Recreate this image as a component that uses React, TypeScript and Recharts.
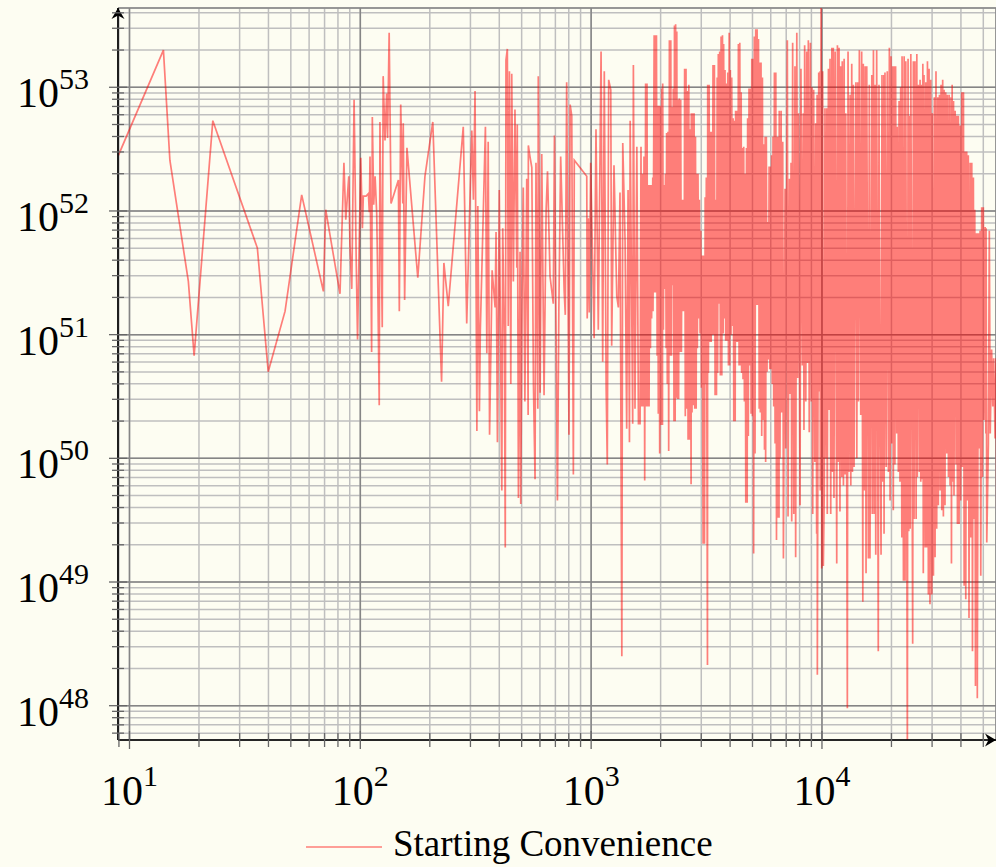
import { CartesianGrid, Legend, Line, LineChart, XAxis, YAxis } from 'recharts'

// log10(frequency) / log10(power)
const lowF = [
  0.952, 1.147, 1.175, 1.255, 1.28, 1.361, 1.554, 1.601, 1.674, 1.746,
  1.84, 1.85, 1.912, 1.929, 1.937, 1.95, 1.955, 1.963, 1.973, 1.982,
  1.988, 1.996, 2.002, 2.009, 2.013, 2.025, 2.035, 2.039, 2.042, 2.049,
  2.052, 2.058, 2.064, 2.071, 2.075, 2.082, 2.085, 2.092, 2.095, 2.099,
  2.107, 2.114, 2.118, 2.125, 2.133, 2.165, 2.169, 2.175, 2.184, 2.186,
  2.192, 2.202, 2.249, 2.28, 2.314, 2.352, 2.362, 2.381, 2.446, 2.461,
  2.475, 2.483, 2.49, 2.497, 2.505, 2.509, 2.516, 2.52, 2.542, 2.548,
  2.554, 2.56,
]
const lowP = [
  52.45, 53.3, 52.41, 51.43, 50.83, 52.73, 51.7, 50.7, 51.19, 52.13,
  51.35, 52.01, 51.33, 52.39, 51.93, 52.28, 51.73, 51.37, 52.9, 51.63,
  50.96, 51.81, 52.43, 51.86, 52.12, 52.12, 52.14, 51.99, 52.44, 50.86,
  52.76, 52.05, 52.28, 51.98, 51.5, 50.43, 52.72, 51.5, 51.06, 53.09,
  52.57, 52.95, 52.59, 53.44, 52.06, 52.25, 51.19, 52.86, 52.06, 52.71,
  51.28, 52.51, 51.46, 52.28, 52.72, 50.62, 51.58, 51.23, 52.68, 51.09,
  52.09, 52.65, 52.09, 52.97, 50.22, 52.04, 50.38, 51.04, 52.68, 50.85,
  52.56, 50.19,
]

const midF = [
  2.571, 2.584, 2.588, 2.594, 2.602, 2.613, 2.617, 2.624, 2.628, 2.631,
  2.637, 2.641, 2.646, 2.652, 2.656, 2.663, 2.67, 2.678, 2.68, 2.685,
  2.692, 2.695, 2.701, 2.706, 2.713, 2.721, 2.727, 2.728, 2.735, 2.743,
  2.75, 2.757, 2.761, 2.769, 2.771, 2.779, 2.786, 2.796, 2.805, 2.811,
  2.822, 2.836, 2.841, 2.854, 2.86, 2.868, 2.883, 2.888, 2.894, 2.904,
  2.909, 2.916, 2.923, 2.927, 2.981, 2.983, 2.988, 2.992, 2.998, 3.013,
  3.021, 3.031, 3.043, 3.05, 3.057, 3.065, 3.07, 3.076, 3.085, 3.089,
  3.099, 3.111, 3.118, 3.125, 3.133, 3.137, 3.147, 3.154, 3.16, 3.166,
  3.169, 3.18, 3.183, 3.19, 3.198, 3.205,
]
const midP = [
  51.52, 51.22, 51.83, 50.13, 52.17, 49.74, 51.86, 50.96, 49.28, 53.22,
  53.31, 51.07, 53.13, 50.6, 53.11, 51.43, 52.82, 51.54, 52.7, 49.68,
  51.67, 49.63, 51.36, 52.19, 50.46, 52.26, 50.35, 52.53, 52.44, 52.35,
  50.6, 49.83, 52.39, 50.4, 53.09, 50.53, 52.46, 50.51, 52.01, 52.32,
  51.47, 51.25, 52.61, 49.66, 51.18, 52.44, 51.36, 51.16, 53.04, 50.19,
  52.86, 52.77, 49.87, 52.41, 52.28, 51.13, 51.94, 51.18, 52.39, 50.97,
  52.66, 51.04, 53.29, 50.78, 53.13, 50.57, 49.95, 53.06, 52.98, 50.91,
  52.37, 51.31, 51.22, 52.15, 48.4, 52.55, 51.76, 50.24, 52.17, 50.13,
  52.73, 50.28, 53.18, 50.4, 52.52, 50.28,
]

const rampF = [
  3.212, 3.216, 3.219, 3.223, 3.226, 3.229, 3.232, 3.236, 3.239, 3.242,
  3.245, 3.248, 3.251, 3.254, 3.257, 3.26, 3.262, 3.267, 3.268, 3.273,
  3.274, 3.278, 3.28, 3.283, 3.286, 3.288, 3.291, 3.294, 3.297, 3.3,
  3.303, 3.306, 3.309, 3.31, 3.313, 3.316, 3.319, 3.322, 3.325, 3.327,
  3.33, 3.333, 3.336, 3.339, 3.342, 3.345, 3.348, 3.351, 3.353, 3.356,
  3.359, 3.361, 3.364, 3.366, 3.369, 3.371, 3.374, 3.377, 3.379, 3.382,
  3.385, 3.388, 3.391, 3.394, 3.397, 3.4, 3.403, 3.405, 3.408, 3.411,
  3.414, 3.417, 3.42, 3.423, 3.426, 3.429, 3.433, 3.434, 3.437, 3.44,
  3.443, 3.446, 3.449, 3.452, 3.455, 3.457, 3.46, 3.463, 3.466, 3.469,
  3.472, 3.475, 3.478, 3.481, 3.485, 3.486, 3.491, 3.494, 3.496, 3.499,
  3.504, 3.505, 3.508, 3.511, 3.514, 3.517, 3.52, 3.522, 3.525, 3.528,
  3.531, 3.534, 3.537, 3.54, 3.543, 3.546, 3.548, 3.551, 3.554, 3.557,
  3.56, 3.563, 3.566, 3.569, 3.572, 3.574, 3.577, 3.58, 3.583, 3.586,
  3.589, 3.592, 3.595, 3.598, 3.6, 3.603, 3.606, 3.609, 3.612, 3.615,
  3.618, 3.621, 3.624, 3.626, 3.629, 3.632, 3.635, 3.638, 3.641, 3.644,
  3.647, 3.65, 3.652, 3.655, 3.658, 3.661, 3.664, 3.667, 3.67, 3.673,
  3.676, 3.678, 3.681, 3.684, 3.687, 3.69, 3.693, 3.696, 3.699, 3.702,
  3.704, 3.707, 3.71, 3.713, 3.716, 3.719, 3.722, 3.725, 3.728, 3.73,
  3.733, 3.736, 3.739, 3.742, 3.745, 3.748, 3.751, 3.754, 3.756, 3.759,
  3.762, 3.765, 3.768, 3.771, 3.774, 3.777, 3.779, 3.782, 3.785, 3.788,
  3.791, 3.794, 3.797, 3.8, 3.803, 3.806, 3.809, 3.811, 3.814,
]
const rampP = [
  50.28, 52.52, 50.42, 52.3, 50.42, 52.44, 49.82, 53.03, 50.42, 53.03,
  50.42, 52.21, 50.42, 52.21, 50.89, 52.21, 51.13, 52.27, 51.19, 53.42,
  51.34, 53.42, 51.34, 53.42, 50.83, 52.85, 50.36, 52.85, 50.04, 52.85,
  50.27, 52.99, 50.27, 53.03, 51.04, 52.21, 51.37, 52.3, 50.89, 52.63,
  50.6, 52.64, 50.06, 53.38, 50.83, 53.38, 50.83, 52.84, 51.4, 52.99,
  50.3, 53.5, 50.3, 53.51, 50.49, 53.45, 50.48, 52.9, 50.48, 52.91,
  50.86, 52.9, 50.86, 52.09, 51.19, 52.09, 51.19, 53.15, 50.34, 53.15,
  50.4, 52.97, 50.15, 53.02, 50.15, 52.66, 49.79, 52.79, 50.37, 52.79,
  50.43, 52.79, 50.4, 52.6, 50.4, 52.3, 50.89, 52.3, 51.13, 52.09,
  51.01, 51.84, 50.57, 51.64, 49.31, 51.64, 49.31, 52.11, 50.6, 52.27,
  48.33, 53.02, 50.69, 53.02, 50.94, 52.64, 50.94, 52.64, 51.0, 53.18,
  51.0, 53.18, 50.51, 52.09, 50.51, 53.08, 50.69, 53.27, 51.25, 53.29,
  50.67, 53.41, 50.67, 53.42, 51.01, 53.35, 51.13, 53.14, 50.95, 53.03,
  50.95, 53.12, 50.75, 53.44, 50.75, 53.14, 51.0, 53.08, 51.07, 52.75,
  50.3, 52.73, 50.3, 52.81, 50.94, 52.81, 50.94, 53.35, 50.75, 53.36,
  50.75, 52.96, 50.69, 52.51, 50.64, 52.52, 50.46, 52.3, 49.64, 52.51,
  49.64, 52.75, 50.18, 52.99, 50.75, 52.99, 50.36, 53.23, 50.34, 53.23,
  49.23, 53.41, 50.04, 53.47, 51.24, 53.47, 51.24, 53.39, 50.4, 53.2,
  50.37, 53.2, 50.18, 53.08, 50.31, 52.54, 50.07, 52.6, 49.97, 52.6,
  50.7, 51.91, 50.8, 52.36, 50.72, 52.36, 50.72, 52.45, 50.6, 52.6,
  50.42, 53.12, 50.12, 53.12, 49.34, 52.6, 49.52, 52.6, 49.52,
]

const highF = [
  3.815, 3.818, 3.823, 3.826, 3.83, 3.833, 3.84, 3.843, 3.85, 3.853,
  3.859, 3.862, 3.866, 3.869, 3.873, 3.878, 3.883, 3.886, 3.891, 3.895,
  3.899, 3.905, 3.909, 3.915, 3.919, 3.922, 3.925, 3.93, 3.934, 3.937,
  3.941, 3.945, 3.95, 3.954, 3.957, 3.96, 3.964, 3.969, 3.973, 3.977,
  3.979, 3.98, 3.986, 3.989, 3.992, 3.993, 3.996, 3.999, 4.003, 4.006,
  4.01, 4.013, 4.018, 4.021, 4.023, 4.028, 4.031, 4.035, 4.038, 4.043,
  4.045, 4.049, 4.052, 4.057, 4.064, 4.067, 4.071, 4.074, 4.078, 4.081,
  4.086, 4.088, 4.093, 4.096, 4.1, 4.103, 4.11, 4.113, 4.117, 4.122,
  4.125, 4.129, 4.132, 4.136, 4.139, 4.147, 4.151, 4.155, 4.158, 4.162,
  4.168, 4.172, 4.177, 4.179, 4.184, 4.187, 4.191, 4.194, 4.201, 4.205,
  4.208, 4.216, 4.218, 4.223, 4.226, 4.23, 4.233, 4.237, 4.244, 4.247,
  4.252,
]
const highP = [
  52.81, 50.0, 52.81, 50.37, 52.56, 49.19, 52.18, 50.08, 53.38, 49.53,
  52.26, 50.52, 52.39, 49.49, 53.36, 49.55, 53.17, 49.2, 53.44, 50.65,
  52.79, 49.62, 53.15, 50.75, 52.79, 50.23, 53.34, 50.46, 53.29, 50.77,
  53.38, 50.21, 53.36, 50.46, 53.0, 49.55, 52.98, 49.97, 52.71, 49.39,
  52.94, 48.25, 53.12, 50.54, 53.13, 49.74, 53.71, 49.11, 53.13, 49.13,
  49.74, 52.83, 50.0, 52.83, 49.55, 53.15, 50.39, 53.23, 49.55, 53.32,
  49.89, 53.32, 49.68, 53.29, 49.15, 53.34, 49.97, 53.32, 49.57, 53.17,
  49.85, 53.21, 49.78, 53.23, 49.87, 52.79, 47.98, 53.29, 49.89, 52.94,
  49.78, 53.19, 49.89, 53.02, 49.93, 53.04, 50.0, 53.04, 50.46, 53.3,
  50.35, 53.29, 48.84, 53.19, 49.74, 53.17, 49.07, 53.17, 49.19, 53.02,
  49.19, 53.1, 49.55, 53.3, 49.55, 53.02, 49.22, 53.3, 48.44, 53.02,
  50.23,
]

const tailF = [
  4.256, 4.26, 4.263, 4.268, 4.269, 4.273, 4.278, 4.283, 4.288, 4.292,
  4.295, 4.299, 4.302, 4.307, 4.309, 4.313, 4.316, 4.319, 4.324, 4.326,
  4.331, 4.334, 4.338, 4.341, 4.346, 4.347, 4.353, 4.356, 4.36, 4.363,
  4.37, 4.373, 4.376, 4.379, 4.382, 4.385, 4.393, 4.396, 4.399, 4.403,
  4.408, 4.411, 4.413, 4.418, 4.422, 4.425, 4.428, 4.431, 4.434, 4.437,
  4.439, 4.442, 4.447, 4.45, 4.454, 4.457, 4.461, 4.464, 4.468, 4.471,
  4.476, 4.478, 4.483, 4.487, 4.49, 4.494, 4.497, 4.502, 4.504, 4.509,
  4.512, 4.516, 4.519, 4.523, 4.526, 4.529, 4.533, 4.536, 4.541, 4.543,
  4.548, 4.551, 4.555, 4.559, 4.561, 4.564, 4.567, 4.57, 4.572, 4.577,
  4.581, 4.584, 4.587, 4.591, 4.594, 4.598, 4.601, 4.606, 4.608, 4.613,
  4.616, 4.62, 4.623, 4.627, 4.63, 4.634, 4.637, 4.642, 4.645, 4.649,
  4.652, 4.656, 4.659, 4.662, 4.665, 4.668, 4.671, 4.672, 4.673, 4.678,
  4.681, 4.685, 4.688, 4.692, 4.695, 4.699, 4.702, 4.707, 4.71, 4.711,
  4.714, 4.721, 4.725, 4.729, 4.735, 4.74, 4.744, 4.75, 4.754, 4.758,
]
const tailP = [
  49.22, 53.1, 49.81, 53.1, 49.39, 53.12, 49.93, 53.13, 49.89, 53.32,
  49.66, 53.25, 50.12, 53.17, 49.58, 53.17, 49.95, 53.17, 50.2, 52.68,
  49.89, 52.89, 49.81, 53.0, 49.36, 53.25, 49.01, 53.25, 49.01, 53.21,
  47.56, 53.23, 49.41, 52.77, 49.43, 53.27, 48.5, 53.21, 49.51, 53.21,
  49.51, 53.27, 49.85, 53.02, 49.89, 53.06, 49.81, 53.02, 49.83, 53.19,
  49.07, 53.1, 49.28, 53.04, 49.28, 53.21, 48.9, 53.15, 48.82, 53.06,
  48.9, 52.79, 49.05, 52.92, 49.2, 53.13, 49.43, 52.92, 49.62, 52.94,
  49.74, 53.02, 49.58, 53.06, 49.53, 52.98, 49.62, 52.96, 50.04, 52.94,
  49.85, 52.94, 49.78, 52.92, 49.15, 53.02, 49.81, 52.89, 49.7, 52.81,
  49.95, 52.77, 49.47, 52.77, 49.47, 52.69, 49.66, 52.96, 49.93, 52.96,
  48.97, 52.48, 48.86, 52.48, 49.66, 52.45, 48.71, 52.39, 49.36, 52.39,
  48.44, 52.27, 49.51, 52.01, 48.16, 51.82, 48.94, 51.82, 48.06, 51.82,
  50.08, 51.84, 49.05, 52.03, 49.85, 52.03, 50.31, 51.87, 50.2, 51.86,
  49.32, 50.12, 51.84, 50.2, 50.88, 50.42, 50.81, 50.16, 50.81, 49.42,
]

const seriesName = 'Starting Convenience'

const xDecades = [0, 1, 2, 3, 4]
const yDecades = [47, 48, 49, 50, 51, 52, 53]
const mantissas = [1, 2, 3, 4, 5, 6, 7, 8, 9]

const X_MIN = 8.917
const X_MAX = 56750
const Y_MIN = 5.28e47
const Y_MAX = 4.375e53

const BG = '#fdfdf2'
const FONT = '"Liberation Serif", "DejaVu Serif", serif'
const TICK = '#666'

const logF = [...lowF, ...midF, ...rampF, ...highF, ...tailF]
const logP = [...lowP, ...midP, ...rampP, ...highP, ...tailP]
const rows = logF
  .slice(0, Math.min(logF.length, logP.length))
  .map((lf, i) => ({ f: 10 ** lf, p: 10 ** logP[i] }))

const logTicks = (decades: number[], lo: number, hi: number) =>
  decades
    .flatMap((d) => mantissas.map((m) => m * 10 ** d))
    .filter((v) => v >= lo && v <= hi)

const xTicks = logTicks(xDecades, X_MIN, X_MAX)
const yTicks = logTicks(yDecades, Y_MIN, Y_MAX)
const xMajor = xDecades.map((d) => 10 ** d).filter((v) => v >= X_MIN && v <= X_MAX)
const yMajor = yDecades.map((d) => 10 ** d).filter((v) => v >= Y_MIN && v <= Y_MAX)

function powerOf(v: number) {
  const lg = Math.log10(v)
  const e = Math.round(lg)
  return { e, major: Math.abs(lg - e) < 1e-6 }
}

function XTick(props: any) {
  const { x, y, payload } = props
  const { e, major } = powerOf(payload.value)
  const h = major ? 9 : 7
  return (
    <g>
      <line x1={x} x2={x} y1={y - h} y2={y + h} stroke={TICK} strokeWidth={1.3} />
      {major && (
        <text x={x} y={y + 65} textAnchor="middle" fontFamily={FONT} fontSize={42} fill="#000">
          10
          <tspan dy={-19} fontSize={30}>
            {e}
          </tspan>
        </text>
      )}
    </g>
  )
}

function YTick(props: any) {
  const { x, y, payload } = props
  const { e, major } = powerOf(payload.value)
  const h = major ? 9 : 6
  return (
    <g>
      <line x1={x - h} x2={x + h} y1={y} y2={y} stroke={TICK} strokeWidth={1.3} />
      {major && (
        <text x={x - 29} y={y + 20} textAnchor="end" fontFamily={FONT} fontSize={42} fill="#000">
          10
          <tspan dy={-18} fontSize={30}>
            {e}
          </tspan>
        </text>
      )}
    </g>
  )
}

function LegendBox() {
  return (
    <svg width={480} height={56} style={{ overflow: 'visible', display: 'block' }}>
      <line x1={6} x2={82} y1={21} y2={21} stroke="#ff0000" strokeOpacity={0.5} strokeWidth={1.7} />
      <text x={93} y={30} fontFamily={FONT} fontSize={37} fill="#000">
        {seriesName}
      </text>
    </svg>
  )
}

export default function App() {
  return (
    <div style={{ position: 'absolute', left: 0, top: 0, width: 996, height: 867, background: BG }}>
      <LineChart width={996} height={867} data={rows} margin={{ top: 8, right: 0, bottom: 67, left: 8 }}>
        <defs>
          <marker
            id="axisArrow"
            markerWidth={14}
            markerHeight={14}
            refX={12}
            refY={7}
            orient="auto-start-reverse"
            markerUnits="userSpaceOnUse"
          >
            <path d="M12,7 L1,0.5 L4.5,7 L1,13.5 Z" fill="#000" />
          </marker>
        </defs>
        <CartesianGrid xAxisId="x" yAxisId="y" stroke="#bfbfbf" strokeWidth={1.5} />
        <CartesianGrid xAxisId="xMajor" yAxisId="yMajor" stroke="#858585" strokeWidth={1.5} />
        <XAxis
          xAxisId="x"
          dataKey="f"
          type="number"
          scale="log"
          domain={[X_MIN, X_MAX]}
          allowDataOverflow
          ticks={xTicks}
          interval={0}
          tick={<XTick />}
          tickLine={false}
          tickSize={0}
          tickMargin={0}
          height={60}
          axisLine={{ stroke: '#000', strokeWidth: 1.6, markerEnd: 'url(#axisArrow)' }}
        />
        <XAxis
          xAxisId="xMajor"
          dataKey="f"
          type="number"
          scale="log"
          domain={[X_MIN, X_MAX]}
          allowDataOverflow
          ticks={xMajor}
          interval={0}
          hide
        />
        <YAxis
          yAxisId="y"
          type="number"
          scale="log"
          domain={[Y_MIN, Y_MAX]}
          allowDataOverflow
          ticks={yTicks}
          interval={0}
          tick={<YTick />}
          tickLine={false}
          tickSize={0}
          tickMargin={0}
          width={110}
          axisLine={{ stroke: '#000', strokeWidth: 1.6, markerStart: 'url(#axisArrow)' }}
        />
        <YAxis
          yAxisId="yMajor"
          type="number"
          scale="log"
          domain={[Y_MIN, Y_MAX]}
          allowDataOverflow
          ticks={yMajor}
          interval={0}
          hide
        />
        <Line
          xAxisId="x"
          yAxisId="y"
          type="linear"
          dataKey="p"
          name={seriesName}
          stroke="#ff0000"
          strokeOpacity={0.5}
          strokeWidth={1.7}
          dot={false}
          activeDot={false}
          isAnimationActive={false}
        />
        <Legend
          layout="horizontal"
          verticalAlign="middle"
          align="center"
          content={<LegendBox />}
          wrapperStyle={{ left: 300, top: 826, width: 480, height: 41, overflow: 'visible' }}
        />
      </LineChart>
    </div>
  )
}
